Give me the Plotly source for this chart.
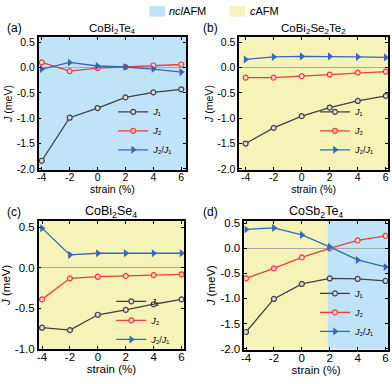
import plotly.graph_objects as go

strain = [-4, -2, 0, 2, 4, 6]

# (a) CoBi2Te4
a_J1 = [-1.84, -0.99, -0.80, -0.59, -0.49, -0.43]
a_J2 = [0.10, -0.07, -0.01, 0.01, 0.04, 0.06]
a_R = [-0.03, 0.10, 0.03, 0.01, -0.03, -0.09]
# (b) CoBi2Se2Te2
b_J1 = [-1.50, -1.19, -0.96, -0.79, -0.66, -0.56]
b_J2 = [-0.20, -0.20, -0.17, -0.14, -0.10, -0.08]
b_R = [0.16, 0.21, 0.22, 0.22, 0.21, 0.20]
# (c) CoBi2Se4
c_J1 = [-0.74, -0.77, -0.58, -0.52, -0.45, -0.39]
c_J2 = [-0.39, -0.13, -0.11, -0.10, -0.09, -0.08]
c_R = [0.49, 0.16, 0.18, 0.18, 0.18, 0.18]
# (d) CoSb2Te4
d_J1 = [-1.67, -1.01, -0.71, -0.60, -0.61, -0.65]
d_J2 = [-0.60, -0.40, -0.18, 0.00, 0.16, 0.25]
d_R = [0.38, 0.41, 0.27, 0.03, -0.23, -0.37]
d_boundary = 1.85

titles = ["CoBi<sub>2</sub>Te<sub>4</sub>", "CoBi<sub>2</sub>Se<sub>2</sub>Te<sub>2</sub>",
          "CoBi<sub>2</sub>Se<sub>4</sub>", "CoSb<sub>2</sub>Te<sub>4</sub>"]
labels = ["(a)", "(b)", "(c)", "(d)"]
series_names = ["<i>J</i>₁", "<i>J</i>₂", "<i>J</i>₂/<i>J</i>₁"]
xticks = [-4, -2, 0, 2, 4, 6]
xtick_text = ["-4", "-2", "0", "2", "4", "6"]
yticks_big = [-2.0, -1.5, -1.0, -0.5, 0.0, 0.5]
yticks_big_text = ["-2.0", "-1.5", "-1.0", "-0.5", "0.0", "0.5"]
yticks_small = [-1.0, -0.5, 0.0, 0.5]
yticks_small_text = ["-1.0", "-0.5", "0.0", "0.5"]

BLUE_BG = "#bfe4f7"
YEL_BG = "#f6f3b8"
C_J1 = "#404040"
C_J2 = "#f23a3a"
C_R = "#3468bf"

W, H = 392, 384
panels = [
    dict(J1=a_J1, J2=a_J2, R=a_R, xd=[0.092, 0.472], yd=[0.555, 0.909], xr=[-4.22, 6.35], yr=[-2.02, 0.6],
         yt=yticks_big, ytt=yticks_big_text, bg=BLUE_BG, fs=10.5, leg_mid=40),
    dict(J1=b_J1, J2=b_J2, R=b_R, xd=[0.609, 0.992], yd=[0.555, 0.909], xr=[-4.45, 6.15], yr=[-2.02, 0.6],
         yt=yticks_big, ytt=yticks_big_text, bg=YEL_BG, fs=10.5, leg_mid=40),
    dict(J1=c_J1, J2=c_J2, R=c_R, xd=[0.092, 0.467], yd=[0.078, 0.419], xr=[-4.24, 6.19], yr=[-1.0, 0.58],
         yt=yticks_small, ytt=yticks_small_text, bg=YEL_BG, fs=11.5, leg_mid=29),
    dict(J1=d_J1, J2=d_J2, R=d_R, xd=[0.622, 0.992], yd=[0.076, 0.419], xr=[-4.12, 6.17], yr=[-2.02, 0.55],
         yt=yticks_big, ytt=yticks_big_text, bg=None, fs=11.5, leg_mid=38),
]

fig = go.Figure()
shapes = []
annotations = []
font = "Liberation Sans, Arial, sans-serif"

for i, p in enumerate(panels):
    n = i + 1
    xa = "x" if n == 1 else f"x{n}"
    ya = "y" if n == 1 else f"y{n}"
    leg = "legend" if n == 1 else f"legend{n}"
    common = dict(xaxis=xa, yaxis=ya, legend=leg, mode="lines+markers")
    fig.add_trace(go.Scatter(x=strain, y=p["J1"], name=series_names[0],
                             line=dict(color=C_J1, width=1.3),
                             marker=dict(symbol="circle", size=5, color="#d8d8d8",
                                         line=dict(color=C_J1, width=1.2)), **common))
    fig.add_trace(go.Scatter(x=strain, y=p["J2"], name=series_names[1],
                             line=dict(color=C_J2, width=1.3),
                             marker=dict(symbol="circle", size=5, color="#ffd0d0",
                                         line=dict(color=C_J2, width=1.2)), **common))
    fig.add_trace(go.Scatter(x=strain, y=p["R"], name=series_names[2],
                             line=dict(color=C_R, width=1.3),
                             marker=dict(symbol="triangle-right", size=7, color=C_R), **common))

    axis_common = dict(showline=True, linecolor="black", linewidth=1.5, mirror="ticks",
                       ticks="inside", ticklen=3, tickcolor="black", showgrid=False,
                       tickfont=dict(size=p["fs"], color="black", family=font))
    fig.layout[("xaxis" if n == 1 else f"xaxis{n}")] = dict(
        domain=p["xd"], range=p["xr"], anchor=ya, tickvals=xticks, ticktext=xtick_text,
        zeroline=False, ticklabelstandoff=-3,
        title=dict(text="strain (%)", font=dict(size=p["fs"], color="black", family=font), standoff=0),
        **axis_common)
    fig.layout[("yaxis" if n == 1 else f"yaxis{n}")] = dict(
        domain=p["yd"], range=p["yr"], anchor=xa, tickvals=p["yt"], ticktext=p["ytt"],
        zeroline=True, zerolinecolor="#aaaaaa", zerolinewidth=1,
        title=dict(text="<i>J</i> (meV)", font=dict(size=p["fs"], color="black", family=font), standoff=2),
        **axis_common)

    # backgrounds
    if p["bg"] is not None:
        shapes.append(dict(type="rect", xref=f"{xa} domain", yref=f"{ya} domain", x0=0, x1=1, y0=0, y1=1,
                           fillcolor=p["bg"], line=dict(width=0), layer="below"))
    else:
        shapes.append(dict(type="rect", xref=xa, yref=f"{ya} domain", x0=p["xr"][0], x1=d_boundary,
                           y0=0, y1=1, fillcolor=YEL_BG, line=dict(width=0), layer="below"))
        shapes.append(dict(type="rect", xref=xa, yref=f"{ya} domain", x0=d_boundary, x1=p["xr"][1],
                           y0=0, y1=1, fillcolor=BLUE_BG, line=dict(width=0), layer="below"))

    # legend inside bottom-right
    fig.layout[leg] = dict(x=p["xd"][1] - 8 / W, y=p["yd"][0] + p["leg_mid"] / H,
                           xanchor="right", yanchor="middle",
                           xref="paper", yref="paper", bgcolor="rgba(0,0,0,0)", borderwidth=0,
                           font=dict(size=9, color="black", family=font), itemwidth=30,
                           tracegroupgap=0)

    # title
    annotations.append(dict(text=titles[i], x=(p["xd"][0] + p["xd"][1]) / 2, y=p["yd"][1] - 0.002,
                            xref="paper", yref="paper", xanchor="center", yanchor="bottom", showarrow=False,
                            font=dict(size=p["fs"] + 1, color="black", family=font)))

# panel labels
label_pos = [(0.005, 0.908), (0.51, 0.908), (0.005, 0.418), (0.51, 0.418)]
for lab, (lx, ly) in zip(labels, label_pos):
    annotations.append(dict(text=lab, x=lx, y=ly, xref="paper", yref="paper", xanchor="left",
                            yanchor="bottom", showarrow=False, font=dict(size=12, color="black", family=font)))

# top legend for phases
shapes.append(dict(type="rect", xref="paper", yref="paper", x0=148 / W, x1=164 / W,
                   y0=1 - 14 / H, y1=1 - 3 / H, fillcolor=BLUE_BG, line=dict(width=0)))
shapes.append(dict(type="rect", xref="paper", yref="paper", x0=229 / W, x1=245 / W,
                   y0=1 - 14 / H, y1=1 - 3 / H, fillcolor=YEL_BG, line=dict(width=0)))
annotations.append(dict(text="<i>ncl</i>AFM", x=166 / W, y=1 - 8.5 / H, xref="paper", yref="paper",
                        xanchor="left", yanchor="middle", showarrow=False,
                        font=dict(size=11, color="black", family=font)))
annotations.append(dict(text="<i>c</i>AFM", x=248 / W, y=1 - 8.5 / H, xref="paper", yref="paper",
                        xanchor="left", yanchor="middle", showarrow=False,
                        font=dict(size=11, color="black", family=font)))

fig.update_layout(width=W, height=H, margin=dict(l=0, r=0, t=0, b=0),
                  paper_bgcolor="white", plot_bgcolor="white", shapes=shapes, annotations=annotations,
                  showlegend=True, font=dict(family=font, color="black"))

fig.write_html("out.html", config={"displayModeBar": False},
               post_script="document.body.style.margin='0px';")
